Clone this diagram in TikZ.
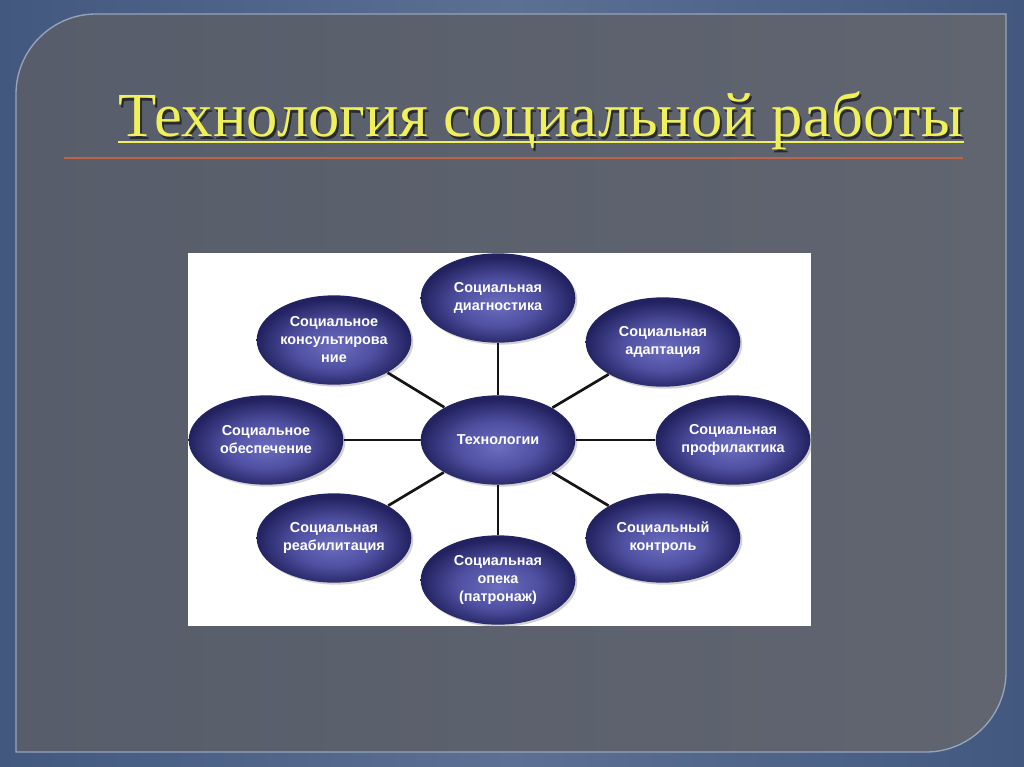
\documentclass[tikz,border=0pt]{standalone}
\usepackage{fontspec}
\setmainfont{Liberation Serif}
\newfontfamily\techfont{Liberation Sans}
\usetikzlibrary{shapes.geometric,shadows}

\definecolor{slideblue}{RGB}{66,88,126}
\definecolor{slidelight}{RGB}{92,112,148}
\definecolor{panelgray}{RGB}{87,93,106}
\definecolor{panelgray2}{RGB}{96,101,112}
\definecolor{panelrim}{RGB}{150,165,190}
\definecolor{titleyellow}{RGB}{240,240,90}
\definecolor{titleshade}{RGB}{40,42,50}
\definecolor{rulered}{RGB}{190,100,70}
\definecolor{ovalin}{RGB}{108,108,192}
\definecolor{ovalmid}{RGB}{80,80,162}
\definecolor{ovalout}{RGB}{34,34,96}
\definecolor{linkgray}{RGB}{20,20,20}

\pgfdeclareradialshading{techball}{\pgfpoint{0bp}{-4bp}}{color(0bp)=(ovalin); color(13bp)=(ovalmid); color(25bp)=(ovalout); color(50bp)=(ovalout)}

\tikzset{every picture/.style={line width=0.75pt}}
\tikzset{
  techoval/.style={ellipse, minimum width=116pt, minimum height=67pt, inner sep=0pt, align=center,
    text=white, font=\techfont\bfseries\fontsize{10.8}{13.5}\selectfont,
    shading=techball, drop shadow={opacity=0.35, shadow xshift=1.5pt, shadow yshift=-1.5pt}},
  techlink/.style={line width=2pt, draw=linkgray}
}

\begin{document}
\begin{tikzpicture}[x=0.75pt,y=0.75pt,yscale=-1,xscale=1]
	\useasboundingbox (0,0) rectangle (1024,767);

	%Slide background
	\shade [left color=slideblue, right color=slideblue, middle color=slidelight] (0,0) rectangle (1024,767);
	%Panel with two rounded corners
	\shade [left color=panelgray, right color=panelgray2, draw=panelrim, line width=1pt] (16,752) -- (16,94) .. controls (16,50) and (52,14) .. (96,14) -- (1006,14) -- (1006,672) .. controls (1006,716) and (970,752) .. (926,752) -- cycle ;

	% Title
	\draw (543,139) node [text=titleshade, font=\fontsize{47}{52}\selectfont, inner sep=0pt, anchor=base] (titleshadow) {Технология социальной работы};
	\draw (541,137) node [text=titleyellow, font=\fontsize{47}{52}\selectfont, inner sep=0pt, anchor=base] (title) {Технология социальной работы};
	\draw [titleyellow, line width=1.5pt] ([yshift=3.5pt]title.base west) -- ([yshift=3.5pt]title.base east) ;
	%Straight Lines
	\draw [rulered, line width=1.5pt] (64,158) -- (963,158) ;

	%White board
	\fill [white] (188,253) rectangle (811,626);

	% Ovals
	\node [techoval] (tech) at (498,440) {Технологии};
	\node [techoval] (diag) at (498,298) {Социальная\\диагностика};
	\node [techoval] (consult) at (334,340) {Социальное\\консультирова\\ние};
	\node [techoval] (adapt) at (663,342) {Социальная\\адаптация};
	\node [techoval] (provision) at (266,440) {Социальное\\обеспечение};
	\node [techoval] (prevent) at (733,440) {Социальная\\профилактика};
	\node [techoval] (rehab) at (334,538) {Социальная\\реабилитация};
	\node [techoval] (control) at (663,538) {Социальный\\контроль};
	\node [techoval] (custody) at (498,580) {Социальная\\опека\\(патронаж)};

	% Links
	\draw [techlink] (tech) -- (diag) ;
	\draw [techlink] (tech) -- (consult) ;
	\draw [techlink] (tech) -- (adapt) ;
	\draw [techlink] (tech) -- (provision) ;
	\draw [techlink] (tech) -- (prevent) ;
	\draw [techlink] (tech) -- (rehab) ;
	\draw [techlink] (tech) -- (control) ;
	\draw [techlink] (tech) -- (custody) ;

\end{tikzpicture}
\end{document}
